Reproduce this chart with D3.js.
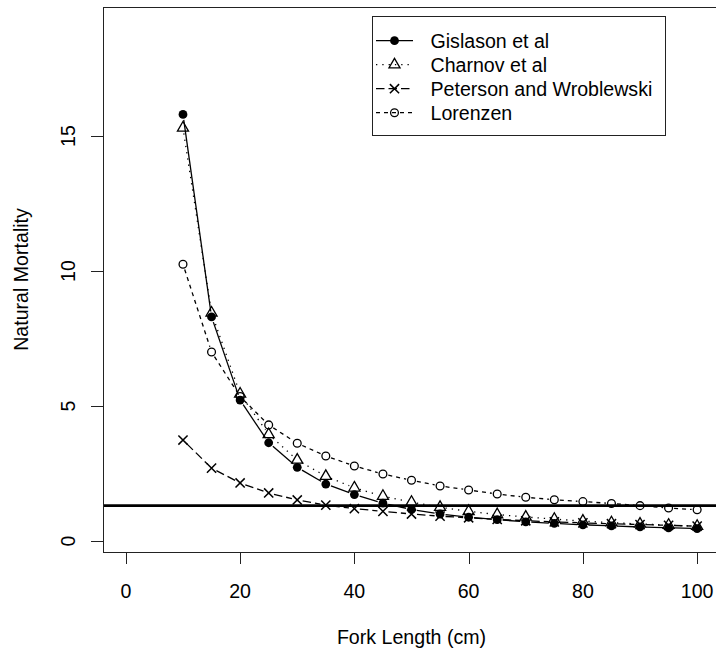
<!DOCTYPE html>
<meta charset="utf-8">
<html>
  <head>
    <title>natural mortality by fork length</title>
    <style>
      body { margin: 0; background: white; }
      svg { display: block; font-family: "Liberation Sans", Arial, sans-serif; }
      .seg { fill: none; stroke: black; stroke-width: 1.3px; }
      .tick-label { font-size: 19.6px; fill: black; }
    </style>
  </head>
  <body>
    <script src="https://d3js.org/d3.v7.min.js"></script>
    <script>

      // fork length (cm) and the four mortality estimates
      var lengths   = [10, 15, 20, 25, 30, 35, 40, 45, 50, 55, 60, 65, 70, 75, 80, 85, 90, 95, 100];
      var gislason  = [15.8, 8.3, 5.22, 3.64, 2.73, 2.11, 1.72, 1.40, 1.17, 1.0, 0.88, 0.79, 0.71, 0.65, 0.60, 0.56, 0.52, 0.49, 0.46];
      var charnov   = [15.3, 8.45, 5.45, 3.95, 3.0, 2.4, 1.97, 1.66, 1.44, 1.25, 1.10, 0.98, 0.89, 0.81, 0.74, 0.68, 0.63, 0.59, 0.55];
      var peterson  = [3.74, 2.7, 2.15, 1.78, 1.52, 1.33, 1.2, 1.1, 1.0, 0.92, 0.86, 0.8, 0.75, 0.71, 0.67, 0.64, 0.61, 0.58, 0.55];
      var lorenzen  = [10.25, 7.0, 5.35, 4.3, 3.62, 3.15, 2.78, 2.48, 2.25, 2.04, 1.89, 1.74, 1.62, 1.53, 1.46, 1.39, 1.31, 1.22, 1.16];
      var seriesNames = ["Gislason et al", "Charnov et al", "Peterson and Wroblewski", "Lorenzen"];
      var xTicks = [0, 20, 40, 60, 80, 100];
      var yTicks = [0, 5, 10, 15];
      var refLine = 1.31;

      var series = [
        {name: seriesNames[0], values: gislason, dash: null,      pch: "dot"},
        {name: seriesNames[1], values: charnov,  dash: "1.3,5",   pch: "triangle"},
        {name: seriesNames[2], values: peterson, dash: "8.5,4",   pch: "cross"},
        {name: seriesNames[3], values: lorenzen, dash: "4,4",     pch: "circle"}
      ];

      var width = 716, height = 657;
      var plot = {left: 103, right: 720, top: 7, bottom: 552};

      var x = d3.scaleLinear().domain([-4, 104]).range([plot.left, plot.right]);
      var y = d3.scaleLinear().domain([-0.407, 19.78]).range([plot.bottom, plot.top]);

      var svg = d3.select("body").append("svg")
          .attr("width", width)
          .attr("height", height);

      // draw a plotting symbol like R's pch
      function drawPoint(g, pch, cx, cy) {
        if (pch == "dot") {
          g.append("circle").attr("cx", cx).attr("cy", cy).attr("r", 4.4)
            .attr("fill", "black");
        } else if (pch == "circle") {
          g.append("circle").attr("cx", cx).attr("cy", cy).attr("r", 3.9)
            .attr("fill", "none").attr("stroke", "black").attr("stroke-width", 1.3);
        } else if (pch == "triangle") {
          var r = 6.4;
          var pts = [[cx, cy - r], [cx + r * Math.sqrt(3) / 2, cy + r / 2], [cx - r * Math.sqrt(3) / 2, cy + r / 2]];
          g.append("polygon").attr("points", pts.map(function(p) { return p.join(","); }).join(" "))
            .attr("fill", "none").attr("stroke", "black").attr("stroke-width", 1.3);
        } else if (pch == "cross") {
          var h = 4.6;
          g.append("path")
            .attr("d", "M" + (cx - h) + "," + (cy - h) + "L" + (cx + h) + "," + (cy + h) +
                       "M" + (cx - h) + "," + (cy + h) + "L" + (cx + h) + "," + (cy - h))
            .attr("stroke", "black").attr("stroke-width", 1.5);
        }
      }

      // series: type = "b" so segments stop short of the points
      var gap = 5.5;
      series.forEach(function(s) {
        var g = svg.append("g");
        for (var i = 0; i < lengths.length - 1; i++) {
          var x1 = x(lengths[i]), y1 = y(s.values[i]);
          var x2 = x(lengths[i + 1]), y2 = y(s.values[i + 1]);
          var dx = x2 - x1, dy = y2 - y1, len = Math.sqrt(dx * dx + dy * dy);
          if (len <= 2 * gap) continue;
          var ux = dx / len, uy = dy / len;
          g.append("line")
            .attr("class", "seg")
            .attr("x1", x1 + ux * gap).attr("y1", y1 + uy * gap)
            .attr("x2", x2 - ux * gap).attr("y2", y2 - uy * gap)
            .attr("stroke-dasharray", s.dash);
        }
        lengths.forEach(function(l, i) {
          drawPoint(g, s.pch, x(l), y(s.values[i]));
        });
      });

      // reference line
      svg.append("line")
          .attr("x1", plot.left).attr("x2", plot.right)
          .attr("y1", y(refLine)).attr("y2", y(refLine))
          .attr("stroke", "black").attr("stroke-width", 2.7);

      // box
      svg.append("rect")
          .attr("x", plot.left + 0.5).attr("y", plot.top + 0.5)
          .attr("width", plot.right - plot.left).attr("height", plot.bottom - plot.top)
          .attr("fill", "none").attr("stroke", "#222").attr("stroke-width", 1);

      // x axis
      var xAxis = svg.append("g");
      xAxis.append("line")
          .attr("x1", x(xTicks[0])).attr("x2", x(xTicks[xTicks.length - 1]))
          .attr("y1", plot.bottom + 0.5).attr("y2", plot.bottom + 0.5)
          .attr("stroke", "#222");
      xTicks.forEach(function(t) {
        var px = Math.round(x(t)) + 0.5;
        xAxis.append("line")
          .attr("x1", px).attr("x2", px)
          .attr("y1", plot.bottom).attr("y2", plot.bottom + 12)
          .attr("stroke", "#222");
        xAxis.append("text")
          .attr("class", "tick-label")
          .attr("x", x(t)).attr("y", 591)
          .attr("text-anchor", "middle")
          .attr("dy", "0.35em")
          .text(t);
      });

      // y axis
      var yAxis = svg.append("g");
      yTicks.forEach(function(t) {
        var py = Math.round(y(t)) + 0.5;
        yAxis.append("line")
          .attr("x1", plot.left - 12).attr("x2", plot.left)
          .attr("y1", py).attr("y2", py)
          .attr("stroke", "#222");
        yAxis.append("text")
          .attr("class", "tick-label")
          .attr("transform", "translate(68.5," + y(t) + ") rotate(-90)")
          .attr("text-anchor", "middle")
          .attr("dy", "0.35em")
          .text(t);
      });

      // axis titles
      svg.append("text")
          .attr("class", "tick-label")
          .attr("x", (plot.left + plot.right) / 2).attr("y", 637)
          .attr("text-anchor", "middle")
          .attr("dy", "0.35em")
          .text("Fork Length (cm)");

      svg.append("text")
          .attr("class", "tick-label")
          .attr("transform", "translate(21," + (plot.top + plot.bottom) / 2 + ") rotate(-90)")
          .attr("text-anchor", "middle")
          .attr("dy", "0.35em")
          .text("Natural Mortality");

      // legend
      var legend = svg.append("g");
      legend.append("rect")
          .attr("x", 372.5).attr("y", 16.5)
          .attr("width", 293).attr("height", 119)
          .attr("fill", "white").attr("stroke", "#222");

      series.forEach(function(s, i) {
        var ly = 40.7 + i * 24;
        legend.append("line")
          .attr("class", "seg")
          .attr("x1", 376).attr("x2", 413)
          .attr("y1", ly).attr("y2", ly)
          .attr("stroke-dasharray", s.dash);
        drawPoint(legend, s.pch, 394.5, ly);
        legend.append("text")
          .attr("class", "tick-label")
          .attr("x", 430.5).attr("y", ly)
          .attr("dy", "0.35em")
          .text(s.name);
      });

    </script>
  </body>
</html>
